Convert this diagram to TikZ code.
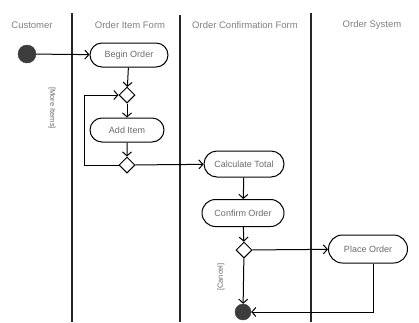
\documentclass[tikz,border=0pt]{standalone}
\usepackage{fontspec}
\setmainfont{Liberation Sans}
\usetikzlibrary{shapes.misc,shapes.geometric,arrows.meta}
\definecolor{txt}{HTML}{6A6A6A}
\definecolor{dot}{HTML}{3C3C3C}
\begin{document}
\begin{tikzpicture}[x=1pt,y=-1pt,
  lane/.style={line width=1.4pt,draw=black!85},
  header/.style={font=\fontsize{9.5}{10}\selectfont,text=txt!85},
  action/.style={rounded rectangle,draw,line width=1pt,minimum height=24pt,
    minimum width=80pt,font=\fontsize{9}{10}\selectfont,text=txt,inner sep=2pt},
  decision/.style={diamond,draw,line width=1pt,minimum size=16pt,inner sep=0pt,fill=white},
  startdot/.style={circle,fill=dot,draw=dot,minimum size=18pt,inner sep=0pt},
  enddot/.style={circle,fill=dot,draw=dot,minimum size=16pt,inner sep=0pt},
  flow/.style={line width=1pt,-{Straight Barb[length=4pt,width=9pt,line width=1pt]}},
  guard/.style={font=\fontsize{7.5}{8}\selectfont,text=txt}]
\useasboundingbox (0,0) rectangle (419,322);

% swimlane dividers
\draw[lane] (72,13) -- (72,322);
\draw[lane] (180,15) -- (180,322);
\draw[lane] (311,13) -- (311,322);

% lane titles
\node[header] (hcust) at (32,25) {Customer};
\node[header] (hitem) at (130,25) {Order Item Form};
\node[header] (hconf) at (245,25) {Order Confirmation Form};
\node[header] (hsys)  at (372,25) {Order System};

% activities and control nodes
\node[startdot] (start) at (27,54) {};
\node[action,minimum width=82pt] (begin) at (129,55) {Begin Order};
\node[decision] (d1) at (127,95) {};
\node[action,minimum width=78pt] (add) at (127,130) {Add Item};
\node[decision] (d2) at (127,165) {};
\node[action,minimum width=84pt,minimum height=26pt] (calc) at (244,164) {Calculate Total};
\node[action,minimum width=86pt,minimum height=27pt] (confirm) at (243,213) {Confirm Order};
\node[decision] (d3) at (244,250) {};
\node[action,minimum width=83pt,minimum height=28pt] (place) at (368,249) {Place Order};
\node[enddot] (end) at (243,312) {};
\coordinate (loopL) at (84,165);
\coordinate (loopT) at (84,95);
\coordinate (turn) at (373,312);

% control flow
\draw[flow] (start) -- (begin);
\draw[flow] (begin) -- (d1);
\draw[flow] (d1) -- (add);
\draw[flow] (add) -- (d2);
\draw[flow] (d2.west) -- (loopL) -- (loopT) -- (d1.west);
\draw[flow] (d2) -- (calc);
\draw[flow] (calc) -- (confirm);
\draw[flow] (confirm) -- (d3);
\draw[flow] (d3) -- (place);
\draw[flow] (d3) -- (end);
\draw[flow] (place.south -| turn) -- (turn) -- (end);

% guards
\node[guard,rotate=-90] (gmore) at (52,108) {[More Items]};
\node[guard,rotate=90] (gcancel) at (221,277) {[Cancel]};
\end{tikzpicture}
\end{document}
